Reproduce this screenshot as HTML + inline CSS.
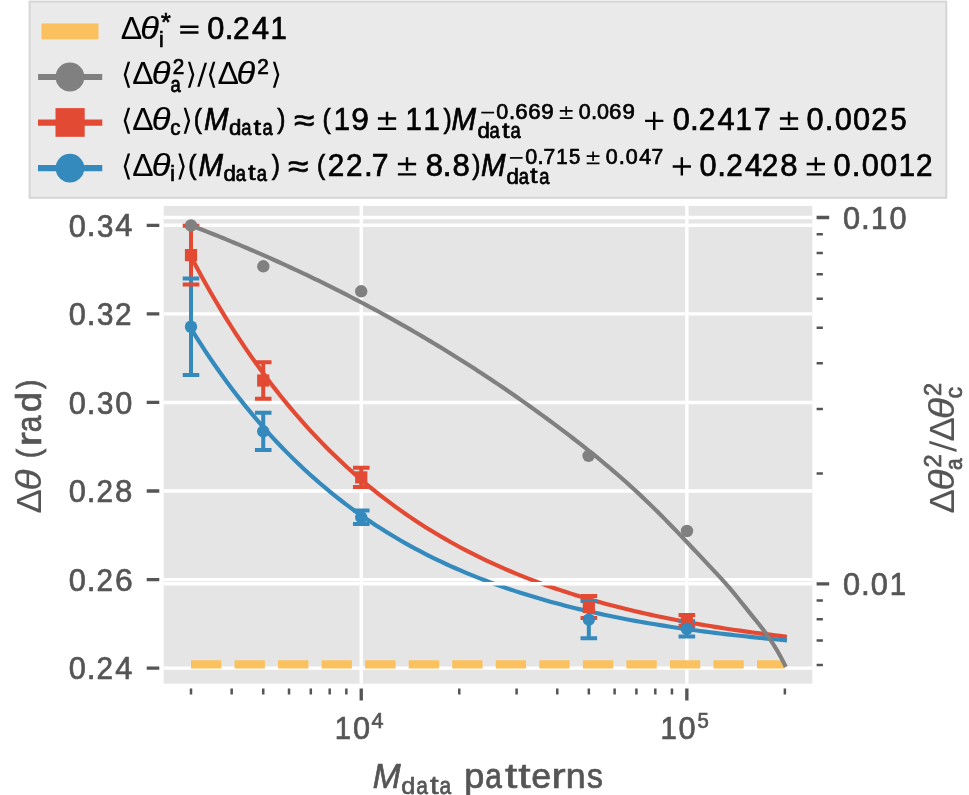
<!DOCTYPE html>
<html><head><meta charset="utf-8"><title>chart</title>
<style>html,body{margin:0;padding:0;background:#fff;}body{width:969px;height:795px;overflow:hidden;}svg{display:block;}text{font-kerning:none;}svg{will-change:transform}</style>
</head><body>
<svg width="969" height="795" viewBox="0 0 969 795" font-family="Liberation Sans, sans-serif" font-size="100">
<rect width="969" height="795" fill="#fff"/>
<rect x="29.6" y="1.6" width="916.7" height="196.2" fill="#EAEAEA" stroke="#D5D5D5" stroke-width="2"/>
<rect x="41.0" y="23.0" width="57.95" height="16.8" fill="#FBC15E" stroke="#EEEEEE" stroke-width="0.8"/>
<line x1="41.1" y1="76.9" x2="99.2" y2="76.9" stroke="#808080" stroke-width="6" stroke-linecap="square"/>
<circle cx="69.95" cy="77.0" r="14.4" fill="#808080"/>
<line x1="41.1" y1="122.6" x2="99.2" y2="122.6" stroke="#E24A33" stroke-width="6.2" stroke-linecap="square"/>
<rect x="55.5" y="108.1" width="29.2" height="28.7" fill="#E24A33"/>
<line x1="41.1" y1="168.2" x2="99.2" y2="168.2" stroke="#348ABD" stroke-width="6.2" stroke-linecap="square"/>
<circle cx="69.95" cy="168.15" r="14.3" fill="#348ABD"/>
<text transform="matrix(0.3205 0 0 0.3091 120.75 38.80)" fill="#000" stroke="#000" stroke-width="0.00">Δ</text>
<text transform="matrix(0.3449 0 0 0.3093 140.30 38.83)" font-style="italic" fill="#000" stroke="#000" stroke-width="0.64">θ</text>
<path d="M180.20 31.37H198.46V33.79H180.20ZM180.20 25.56H198.46V27.95H180.20Z" fill="#000"/>
<text transform="matrix(0.3075 0 0 0.3116 207.30 38.91)" fill="#000" stroke="#000" stroke-width="2.26">0</text>
<text transform="matrix(0.3156 0 0 0.3383 224.82 38.80)" fill="#000" stroke="#000" stroke-width="2.14">.</text>
<text transform="matrix(0.2964 0 0 0.3100 233.11 38.80)" fill="#000" stroke="#000" stroke-width="2.31">2</text>
<text transform="matrix(0.3075 0 0 0.3091 251.89 38.80)" fill="#000" stroke="#000" stroke-width="2.27">4</text>
<text transform="matrix(0.2936 0 0 0.3091 270.56 38.80)" fill="#000" stroke="#000" stroke-width="2.32">1</text>
<text transform="matrix(0.2087 0 0 0.2141 159.00 46.55)" fill="#000" stroke="#000" stroke-width="3.31">i</text>
<text transform="matrix(0.2516 0 0 0.2652 160.99 31.39)" fill="#000" stroke="#000" stroke-width="2.71">*</text>
<path d="M123.70 74.86 L127.72 61.87 L130.14 61.87 L126.12 74.86 L130.14 87.85 L127.72 87.85Z" fill="#000"/>
<text transform="matrix(0.3205 0 0 0.3091 132.25 84.00)" fill="#000" stroke="#000" stroke-width="0.00">Δ</text>
<text transform="matrix(0.3449 0 0 0.3093 151.70 84.03)" font-style="italic" fill="#000" stroke="#000" stroke-width="0.64">θ</text>
<path d="M194.34 74.86 L190.32 87.85 L187.90 87.85 L191.92 74.86 L187.90 61.87 L190.32 61.87Z" fill="#000"/>
<path d="M204.61 62.74 L207.03 62.74 L199.62 86.71 L197.20 86.71Z" fill="#000"/>
<path d="M208.90 74.86 L212.92 61.87 L215.34 61.87 L211.32 74.86 L215.34 87.85 L212.92 87.85Z" fill="#000"/>
<text transform="matrix(0.3205 0 0 0.3091 217.55 84.00)" fill="#000" stroke="#000" stroke-width="0.00">Δ</text>
<text transform="matrix(0.3449 0 0 0.3093 236.40 84.03)" font-style="italic" fill="#000" stroke="#000" stroke-width="0.64">θ</text>
<path d="M279.34 74.86 L275.32 87.85 L272.90 87.85 L276.92 74.86 L272.90 61.87 L275.32 61.87Z" fill="#000"/>
<text transform="matrix(0.2074 0 0 0.2170 172.66 73.70)" fill="#000" stroke="#000" stroke-width="3.30">2</text>
<text transform="matrix(0.2074 0 0 0.2170 257.26 73.70)" fill="#000" stroke="#000" stroke-width="3.30">2</text>
<text transform="matrix(0.1836 0 0 0.2140 170.42 91.78)" fill="#000" stroke="#000" stroke-width="3.52">a</text>
<path d="M123.70 120.86 L127.72 107.87 L130.14 107.87 L126.12 120.86 L130.14 133.85 L127.72 133.85Z" fill="#000"/>
<text transform="matrix(0.3205 0 0 0.3091 132.25 130.00)" fill="#000" stroke="#000" stroke-width="0.00">Δ</text>
<text transform="matrix(0.3449 0 0 0.3093 151.70 130.03)" font-style="italic" fill="#000" stroke="#000" stroke-width="0.64">θ</text>
<path d="M190.14 120.86 L186.12 133.85 L183.70 133.85 L187.72 120.86 L183.70 107.87 L186.12 107.87Z" fill="#000"/>
<text transform="matrix(0.2465 0 0 0.2788 193.77 128.07)" fill="#000" stroke="#000" stroke-width="2.66">(</text>
<text transform="matrix(0.2942 0 0 0.3091 203.90 130.00)" font-style="italic" fill="#000" stroke="#000" stroke-width="2.32">M</text>
<text transform="matrix(0.2465 0 0 0.2788 277.26 128.07)" fill="#000" stroke="#000" stroke-width="2.66">)</text>
<text transform="matrix(0.3695 0 0 0.3193 293.89 131.36)" fill="#000" stroke="#000" stroke-width="2.03">≈</text>
<text transform="matrix(0.2465 0 0 0.2788 322.47 128.07)" fill="#000" stroke="#000" stroke-width="2.66">(</text>
<text transform="matrix(0.2936 0 0 0.3091 333.76 130.00)" fill="#000" stroke="#000" stroke-width="2.32">1</text>
<text transform="matrix(0.3176 0 0 0.3116 351.31 130.11)" fill="#000" stroke="#000" stroke-width="2.23">9</text>
<path d="M377.90 117.23H396.16V119.65H377.90ZM385.83 111.71H388.23V125.16H385.83ZM377.90 127.58H396.16V130.00H377.90Z" fill="#000"/>
<text transform="matrix(0.2936 0 0 0.3091 405.56 130.00)" fill="#000" stroke="#000" stroke-width="2.32">1</text>
<text transform="matrix(0.2936 0 0 0.3091 423.56 130.00)" fill="#000" stroke="#000" stroke-width="2.32">1</text>
<text transform="matrix(0.2465 0 0 0.2788 443.56 128.07)" fill="#000" stroke="#000" stroke-width="2.66">)</text>
<text transform="matrix(0.2942 0 0 0.3091 451.50 130.00)" font-style="italic" fill="#000" stroke="#000" stroke-width="2.32">M</text>
<path d="M645.10 119.65H663.36V122.07H645.10ZM653.03 111.71H655.43V130.00H653.03Z" fill="#000"/>
<text transform="matrix(0.3075 0 0 0.3116 672.80 130.11)" fill="#000" stroke="#000" stroke-width="2.26">0</text>
<text transform="matrix(0.3156 0 0 0.3383 689.92 130.00)" fill="#000" stroke="#000" stroke-width="2.14">.</text>
<text transform="matrix(0.2964 0 0 0.3100 698.81 130.00)" fill="#000" stroke="#000" stroke-width="2.31">2</text>
<text transform="matrix(0.3075 0 0 0.3091 717.39 130.00)" fill="#000" stroke="#000" stroke-width="2.27">4</text>
<text transform="matrix(0.2936 0 0 0.3091 735.56 130.00)" fill="#000" stroke="#000" stroke-width="2.32">1</text>
<text transform="matrix(0.3008 0 0 0.3091 753.96 130.00)" fill="#000" stroke="#000" stroke-width="2.30">7</text>
<path d="M779.90 117.23H798.16V119.65H779.90ZM787.83 111.71H790.23V125.16H787.83ZM779.90 127.58H798.16V130.00H779.90Z" fill="#000"/>
<text transform="matrix(0.3075 0 0 0.3116 806.60 130.11)" fill="#000" stroke="#000" stroke-width="2.26">0</text>
<text transform="matrix(0.3156 0 0 0.3383 824.82 130.00)" fill="#000" stroke="#000" stroke-width="2.14">.</text>
<text transform="matrix(0.3075 0 0 0.3116 834.70 130.11)" fill="#000" stroke="#000" stroke-width="2.26">0</text>
<text transform="matrix(0.3075 0 0 0.3116 852.90 130.11)" fill="#000" stroke="#000" stroke-width="2.26">0</text>
<text transform="matrix(0.2964 0 0 0.3100 871.21 130.00)" fill="#000" stroke="#000" stroke-width="2.31">2</text>
<text transform="matrix(0.2902 0 0 0.3106 890.54 130.11)" fill="#000" stroke="#000" stroke-width="2.33">5</text>
<text transform="matrix(0.2049 0 0 0.2140 170.33 134.98)" fill="#000" stroke="#000" stroke-width="3.34">c</text>
<text transform="matrix(0.2219 0 0 0.2152 229.07 134.98)" fill="#000" stroke="#000" stroke-width="3.20">d</text>
<text transform="matrix(0.1836 0 0 0.2140 241.22 134.98)" fill="#000" stroke="#000" stroke-width="3.52">a</text>
<text transform="matrix(0.2729 0 0 0.2191 253.59 134.73)" fill="#000" stroke="#000" stroke-width="2.85">t</text>
<text transform="matrix(0.1836 0 0 0.2140 262.52 134.98)" fill="#000" stroke="#000" stroke-width="3.52">a</text>
<path d="M481.30 111.75H494.08V113.45H481.30Z" fill="#000"/>
<text transform="matrix(0.2152 0 0 0.2181 496.16 119.08)" fill="#000" stroke="#000" stroke-width="3.23">0</text>
<text transform="matrix(0.2209 0 0 0.2368 509.08 119.00)" fill="#000" stroke="#000" stroke-width="3.06">.</text>
<text transform="matrix(0.2227 0 0 0.2181 515.17 119.08)" fill="#000" stroke="#000" stroke-width="3.18">6</text>
<text transform="matrix(0.2227 0 0 0.2181 528.17 119.08)" fill="#000" stroke="#000" stroke-width="3.18">6</text>
<text transform="matrix(0.2223 0 0 0.2181 541.16 119.08)" fill="#000" stroke="#000" stroke-width="3.18">9</text>
<path d="M559.80 110.06H572.58V111.75H559.80ZM565.35 106.20H567.03V115.61H565.35ZM559.80 117.31H572.58V119.00H559.80Z" fill="#000"/>
<text transform="matrix(0.2152 0 0 0.2181 578.86 119.08)" fill="#000" stroke="#000" stroke-width="3.23">0</text>
<text transform="matrix(0.2209 0 0 0.2368 591.08 119.00)" fill="#000" stroke="#000" stroke-width="3.06">.</text>
<text transform="matrix(0.2152 0 0 0.2181 596.96 119.08)" fill="#000" stroke="#000" stroke-width="3.23">0</text>
<text transform="matrix(0.2227 0 0 0.2181 609.07 119.08)" fill="#000" stroke="#000" stroke-width="3.18">6</text>
<text transform="matrix(0.2223 0 0 0.2181 622.56 119.08)" fill="#000" stroke="#000" stroke-width="3.18">9</text>
<text transform="matrix(0.2219 0 0 0.2152 477.47 137.98)" fill="#000" stroke="#000" stroke-width="3.20">d</text>
<text transform="matrix(0.1836 0 0 0.2140 489.62 137.98)" fill="#000" stroke="#000" stroke-width="3.52">a</text>
<text transform="matrix(0.2729 0 0 0.2191 501.99 137.73)" fill="#000" stroke="#000" stroke-width="2.85">t</text>
<text transform="matrix(0.1836 0 0 0.2140 510.62 137.98)" fill="#000" stroke="#000" stroke-width="3.52">a</text>
<path d="M123.70 166.46 L127.72 153.47 L130.14 153.47 L126.12 166.46 L130.14 179.45 L127.72 179.45Z" fill="#000"/>
<text transform="matrix(0.3205 0 0 0.3091 132.25 175.60)" fill="#000" stroke="#000" stroke-width="0.00">Δ</text>
<text transform="matrix(0.3449 0 0 0.3093 151.70 175.63)" font-style="italic" fill="#000" stroke="#000" stroke-width="0.64">θ</text>
<path d="M184.74 166.46 L180.72 179.45 L178.30 179.45 L182.32 166.46 L178.30 153.47 L180.72 153.47Z" fill="#000"/>
<text transform="matrix(0.2465 0 0 0.2788 188.37 173.67)" fill="#000" stroke="#000" stroke-width="2.66">(</text>
<text transform="matrix(0.2942 0 0 0.3091 198.50 175.60)" font-style="italic" fill="#000" stroke="#000" stroke-width="2.32">M</text>
<text transform="matrix(0.2465 0 0 0.2788 271.76 173.67)" fill="#000" stroke="#000" stroke-width="2.66">)</text>
<text transform="matrix(0.3695 0 0 0.3193 287.89 176.96)" fill="#000" stroke="#000" stroke-width="2.03">≈</text>
<text transform="matrix(0.2465 0 0 0.2788 317.07 173.67)" fill="#000" stroke="#000" stroke-width="2.66">(</text>
<text transform="matrix(0.2964 0 0 0.3100 327.81 175.60)" fill="#000" stroke="#000" stroke-width="2.31">2</text>
<text transform="matrix(0.2964 0 0 0.3100 345.91 175.60)" fill="#000" stroke="#000" stroke-width="2.31">2</text>
<text transform="matrix(0.3156 0 0 0.3383 363.92 175.60)" fill="#000" stroke="#000" stroke-width="2.14">.</text>
<text transform="matrix(0.3008 0 0 0.3091 371.86 175.60)" fill="#000" stroke="#000" stroke-width="2.30">7</text>
<path d="M397.90 162.83H416.16V165.25H397.90ZM405.83 157.31H408.23V170.76H405.83ZM397.90 173.18H416.16V175.60H397.90Z" fill="#000"/>
<text transform="matrix(0.3108 0 0 0.3116 425.65 175.71)" fill="#000" stroke="#000" stroke-width="2.25">8</text>
<text transform="matrix(0.3156 0 0 0.3383 442.82 175.60)" fill="#000" stroke="#000" stroke-width="2.14">.</text>
<text transform="matrix(0.3108 0 0 0.3116 452.45 175.71)" fill="#000" stroke="#000" stroke-width="2.25">8</text>
<text transform="matrix(0.2465 0 0 0.2788 472.26 173.67)" fill="#000" stroke="#000" stroke-width="2.66">)</text>
<text transform="matrix(0.2942 0 0 0.3091 481.00 175.60)" font-style="italic" fill="#000" stroke="#000" stroke-width="2.32">M</text>
<path d="M672.70 165.25H690.96V167.67H672.70ZM680.63 157.31H683.03V175.60H680.63Z" fill="#000"/>
<text transform="matrix(0.3075 0 0 0.3116 699.60 175.71)" fill="#000" stroke="#000" stroke-width="2.26">0</text>
<text transform="matrix(0.3156 0 0 0.3383 717.32 175.60)" fill="#000" stroke="#000" stroke-width="2.14">.</text>
<text transform="matrix(0.2964 0 0 0.3100 726.21 175.60)" fill="#000" stroke="#000" stroke-width="2.31">2</text>
<text transform="matrix(0.3075 0 0 0.3091 744.99 175.60)" fill="#000" stroke="#000" stroke-width="2.27">4</text>
<text transform="matrix(0.2964 0 0 0.3100 761.81 175.60)" fill="#000" stroke="#000" stroke-width="2.31">2</text>
<text transform="matrix(0.3108 0 0 0.3116 780.25 175.71)" fill="#000" stroke="#000" stroke-width="2.25">8</text>
<path d="M806.70 162.83H824.96V165.25H806.70ZM814.63 157.31H817.03V170.76H814.63ZM806.70 173.18H824.96V175.60H806.70Z" fill="#000"/>
<text transform="matrix(0.3075 0 0 0.3116 833.60 175.71)" fill="#000" stroke="#000" stroke-width="2.26">0</text>
<text transform="matrix(0.3156 0 0 0.3383 851.82 175.60)" fill="#000" stroke="#000" stroke-width="2.14">.</text>
<text transform="matrix(0.3075 0 0 0.3116 861.70 175.71)" fill="#000" stroke="#000" stroke-width="2.26">0</text>
<text transform="matrix(0.3075 0 0 0.3116 879.90 175.71)" fill="#000" stroke="#000" stroke-width="2.26">0</text>
<text transform="matrix(0.2936 0 0 0.3091 898.66 175.60)" fill="#000" stroke="#000" stroke-width="2.32">1</text>
<text transform="matrix(0.2964 0 0 0.3100 915.91 175.60)" fill="#000" stroke="#000" stroke-width="2.31">2</text>
<text transform="matrix(0.2087 0 0 0.2141 170.20 180.50)" fill="#000" stroke="#000" stroke-width="3.31">i</text>
<text transform="matrix(0.2219 0 0 0.2152 223.57 180.58)" fill="#000" stroke="#000" stroke-width="3.20">d</text>
<text transform="matrix(0.1836 0 0 0.2140 235.72 180.58)" fill="#000" stroke="#000" stroke-width="3.52">a</text>
<text transform="matrix(0.2729 0 0 0.2191 248.09 180.33)" fill="#000" stroke="#000" stroke-width="2.85">t</text>
<text transform="matrix(0.1836 0 0 0.2140 256.72 180.58)" fill="#000" stroke="#000" stroke-width="3.52">a</text>
<path d="M509.90 157.05H522.68V158.75H509.90Z" fill="#000"/>
<text transform="matrix(0.2152 0 0 0.2181 525.36 164.38)" fill="#000" stroke="#000" stroke-width="3.23">0</text>
<text transform="matrix(0.2209 0 0 0.2368 537.58 164.30)" fill="#000" stroke="#000" stroke-width="3.06">.</text>
<text transform="matrix(0.2105 0 0 0.2163 543.42 164.30)" fill="#000" stroke="#000" stroke-width="3.28">7</text>
<text transform="matrix(0.2056 0 0 0.2163 556.23 164.30)" fill="#000" stroke="#000" stroke-width="3.32">1</text>
<text transform="matrix(0.2031 0 0 0.2175 568.89 164.38)" fill="#000" stroke="#000" stroke-width="3.33">5</text>
<path d="M586.70 155.36H599.48V157.05H586.70ZM592.25 151.50H593.93V160.91H592.25ZM586.70 162.61H599.48V164.30H586.70Z" fill="#000"/>
<text transform="matrix(0.2152 0 0 0.2181 605.86 164.38)" fill="#000" stroke="#000" stroke-width="3.23">0</text>
<text transform="matrix(0.2209 0 0 0.2368 618.68 164.30)" fill="#000" stroke="#000" stroke-width="3.06">.</text>
<text transform="matrix(0.2152 0 0 0.2181 625.86 164.38)" fill="#000" stroke="#000" stroke-width="3.23">0</text>
<text transform="matrix(0.2152 0 0 0.2163 639.21 164.30)" fill="#000" stroke="#000" stroke-width="3.24">4</text>
<text transform="matrix(0.2105 0 0 0.2163 651.62 164.30)" fill="#000" stroke="#000" stroke-width="3.28">7</text>
<text transform="matrix(0.2219 0 0 0.2152 506.47 183.58)" fill="#000" stroke="#000" stroke-width="3.20">d</text>
<text transform="matrix(0.1836 0 0 0.2140 518.82 183.58)" fill="#000" stroke="#000" stroke-width="3.52">a</text>
<text transform="matrix(0.2729 0 0 0.2191 530.09 183.33)" fill="#000" stroke="#000" stroke-width="2.85">t</text>
<text transform="matrix(0.1836 0 0 0.2140 539.22 183.58)" fill="#000" stroke="#000" stroke-width="3.52">a</text>
<rect x="163.7" y="205.9" width="648.60" height="477.80" fill="#E5E5E5"/>
<path d="M361.25 205.9V683.7M686.85 205.9V683.7M163.7 225.30H812.3M163.7 313.87H812.3M163.7 402.44H812.3M163.7 491.01H812.3M163.7 579.58H812.3M163.7 668.15H812.3" stroke="#fff" stroke-width="3.4" fill="none"/>
<path d="M146.7 225.30H159.3M146.7 313.87H159.3M146.7 402.44H159.3M146.7 491.01H159.3M146.7 579.58H159.3M146.7 668.15H159.3M361.25 688.6V700.6M686.85 688.6V700.6M816.6 217.50H829.2M816.6 583.80H829.2" stroke="#555555" stroke-width="3.33" fill="none"/>
<path d="M191.00 688.6V694.4M231.68 688.6V694.4M263.23 688.6V694.4M289.02 688.6V694.4M310.81 688.6V694.4M329.70 688.6V694.4M346.35 688.6V694.4M459.27 688.6V694.4M516.60 688.6V694.4M557.28 688.6V694.4M588.83 688.6V694.4M614.62 688.6V694.4M636.41 688.6V694.4M655.30 688.6V694.4M671.95 688.6V694.4M784.87 688.6V694.4M816.6 473.53H822.9M816.6 409.03H822.9M816.6 363.27H822.9M816.6 327.77H822.9M816.6 298.76H822.9M816.6 274.24H822.9M816.6 253.00H822.9M816.6 234.26H822.9M816.6 665.06H822.9M816.6 640.54H822.9M816.6 619.30H822.9M816.6 600.56H822.9" stroke="#555555" stroke-width="2.5" fill="none"/>
<text transform="matrix(0.3075 0 0 0.3116 68.80 236.51)" fill="#555555" stroke="#555555" stroke-width="2.26">0</text>
<text transform="matrix(0.3156 0 0 0.3383 86.87 236.40)" fill="#555555" stroke="#555555" stroke-width="2.14">.</text>
<text transform="matrix(0.2953 0 0 0.3116 97.00 236.51)" fill="#555555" stroke="#555555" stroke-width="2.31">3</text>
<text transform="matrix(0.3075 0 0 0.3091 115.18 236.40)" fill="#555555" stroke="#555555" stroke-width="2.27">4</text>
<text transform="matrix(0.3075 0 0 0.3116 68.80 325.08)" fill="#555555" stroke="#555555" stroke-width="2.26">0</text>
<text transform="matrix(0.3156 0 0 0.3383 86.87 324.97)" fill="#555555" stroke="#555555" stroke-width="2.14">.</text>
<text transform="matrix(0.2953 0 0 0.3116 97.00 325.08)" fill="#555555" stroke="#555555" stroke-width="2.31">3</text>
<text transform="matrix(0.2964 0 0 0.3100 115.11 324.97)" fill="#555555" stroke="#555555" stroke-width="2.31">2</text>
<text transform="matrix(0.3075 0 0 0.3116 68.80 413.65)" fill="#555555" stroke="#555555" stroke-width="2.26">0</text>
<text transform="matrix(0.3156 0 0 0.3383 86.87 413.54)" fill="#555555" stroke="#555555" stroke-width="2.14">.</text>
<text transform="matrix(0.2953 0 0 0.3116 97.00 413.65)" fill="#555555" stroke="#555555" stroke-width="2.31">3</text>
<text transform="matrix(0.3075 0 0 0.3116 115.18 413.65)" fill="#555555" stroke="#555555" stroke-width="2.26">0</text>
<text transform="matrix(0.3075 0 0 0.3116 68.80 502.22)" fill="#555555" stroke="#555555" stroke-width="2.26">0</text>
<text transform="matrix(0.3156 0 0 0.3383 86.87 502.11)" fill="#555555" stroke="#555555" stroke-width="2.14">.</text>
<text transform="matrix(0.2964 0 0 0.3100 96.55 502.11)" fill="#555555" stroke="#555555" stroke-width="2.31">2</text>
<text transform="matrix(0.3108 0 0 0.3116 115.09 502.22)" fill="#555555" stroke="#555555" stroke-width="2.25">8</text>
<text transform="matrix(0.3075 0 0 0.3116 68.80 590.79)" fill="#555555" stroke="#555555" stroke-width="2.26">0</text>
<text transform="matrix(0.3156 0 0 0.3383 86.87 590.68)" fill="#555555" stroke="#555555" stroke-width="2.14">.</text>
<text transform="matrix(0.2964 0 0 0.3100 96.55 590.68)" fill="#555555" stroke="#555555" stroke-width="2.31">2</text>
<text transform="matrix(0.3182 0 0 0.3116 114.88 590.79)" fill="#555555" stroke="#555555" stroke-width="2.22">6</text>
<text transform="matrix(0.3075 0 0 0.3116 68.80 679.36)" fill="#555555" stroke="#555555" stroke-width="2.26">0</text>
<text transform="matrix(0.3156 0 0 0.3383 86.87 679.25)" fill="#555555" stroke="#555555" stroke-width="2.14">.</text>
<text transform="matrix(0.2964 0 0 0.3100 96.55 679.25)" fill="#555555" stroke="#555555" stroke-width="2.31">2</text>
<text transform="matrix(0.3075 0 0 0.3091 115.18 679.25)" fill="#555555" stroke="#555555" stroke-width="2.27">4</text>
<text transform="matrix(0.3075 0 0 0.3116 843.00 228.81)" fill="#555555" stroke="#555555" stroke-width="2.26">0</text>
<text transform="matrix(0.3156 0 0 0.3383 861.07 228.70)" fill="#555555" stroke="#555555" stroke-width="2.14">.</text>
<text transform="matrix(0.2936 0 0 0.3091 871.07 228.70)" fill="#555555" stroke="#555555" stroke-width="2.32">1</text>
<text transform="matrix(0.3075 0 0 0.3116 889.38 228.81)" fill="#555555" stroke="#555555" stroke-width="2.26">0</text>
<text transform="matrix(0.3075 0 0 0.3116 843.00 595.21)" fill="#555555" stroke="#555555" stroke-width="2.26">0</text>
<text transform="matrix(0.3156 0 0 0.3383 861.07 595.10)" fill="#555555" stroke="#555555" stroke-width="2.14">.</text>
<text transform="matrix(0.3075 0 0 0.3116 870.83 595.21)" fill="#555555" stroke="#555555" stroke-width="2.26">0</text>
<text transform="matrix(0.2936 0 0 0.3091 889.63 595.10)" fill="#555555" stroke="#555555" stroke-width="2.32">1</text>
<text transform="matrix(0.2936 0 0 0.3091 334.76 738.90)" fill="#555555" stroke="#555555" stroke-width="2.32">1</text>
<text transform="matrix(0.3075 0 0 0.3116 353.10 739.01)" fill="#555555" stroke="#555555" stroke-width="2.26">0</text>
<text transform="matrix(0.2152 0 0 0.2163 371.61 728.10)" fill="#555555" stroke="#555555" stroke-width="3.24">4</text>
<text transform="matrix(0.2936 0 0 0.3091 660.56 738.90)" fill="#555555" stroke="#555555" stroke-width="2.32">1</text>
<text transform="matrix(0.3075 0 0 0.3116 678.50 739.01)" fill="#555555" stroke="#555555" stroke-width="2.26">0</text>
<text transform="matrix(0.2031 0 0 0.2175 697.49 728.18)" fill="#555555" stroke="#555555" stroke-width="3.33">5</text>
<line x1="191.00" y1="664.3" x2="784.87" y2="664.3" stroke="#FBC15E" stroke-width="8.33" stroke-dasharray="30.3 13.24"/>
<path d="M191.00 256.68 L195.99 266.08 L200.98 275.26 L205.97 284.22 L210.96 292.97 L215.95 301.53 L220.94 309.88 L225.93 318.04 L230.92 326.01 L235.91 333.79 L240.91 341.40 L245.90 348.82 L250.89 356.08 L255.88 363.16 L260.87 370.09 L265.86 376.85 L270.85 383.45 L275.84 389.90 L280.83 396.20 L285.82 402.36 L290.81 408.37 L295.80 414.24 L300.79 419.97 L305.78 425.58 L310.77 431.05 L315.76 436.39 L320.75 441.61 L325.74 446.71 L330.73 451.69 L335.72 456.56 L340.71 461.31 L345.70 465.95 L350.70 470.49 L355.69 474.92 L360.68 479.24 L365.67 483.47 L370.66 487.60 L375.65 491.63 L380.64 495.57 L385.63 499.41 L390.62 503.17 L395.61 506.84 L400.60 510.42 L405.59 513.93 L410.58 517.35 L415.57 520.69 L420.56 523.95 L425.55 527.14 L430.54 530.25 L435.53 533.29 L440.52 536.26 L445.51 539.16 L450.50 542.00 L455.50 544.76 L460.49 547.47 L465.48 550.11 L470.47 552.69 L475.46 555.21 L480.45 557.67 L485.44 560.07 L490.43 562.42 L495.42 564.72 L500.41 566.96 L505.40 569.14 L510.39 571.28 L515.38 573.37 L520.37 575.41 L525.36 577.40 L530.35 579.35 L535.34 581.25 L540.33 583.10 L545.32 584.92 L550.31 586.69 L555.30 588.42 L560.29 590.11 L565.29 591.76 L570.28 593.37 L575.27 594.95 L580.26 596.49 L585.25 597.99 L590.24 599.46 L595.23 600.89 L600.22 602.29 L605.21 603.66 L610.20 604.99 L615.19 606.30 L620.18 607.57 L625.17 608.82 L630.16 610.03 L635.15 611.22 L640.14 612.38 L645.13 613.52 L650.12 614.62 L655.11 615.70 L660.10 616.76 L665.09 617.79 L670.08 618.80 L675.08 619.78 L680.07 620.75 L685.06 621.68 L690.05 622.60 L695.04 623.50 L700.03 624.37 L705.02 625.23 L710.01 626.06 L715.00 626.88 L719.99 627.67 L724.98 628.45 L729.97 629.21 L734.96 629.96 L739.95 630.68 L744.94 631.39 L749.93 632.08 L754.92 632.76 L759.91 633.42 L764.90 634.06 L769.89 634.69 L774.88 635.31 L779.87 635.91 L784.87 636.49" stroke="#E24A33" stroke-width="4.17" fill="none" stroke-linejoin="round" stroke-linecap="square"/>
<path d="M191.00 328.70 L195.99 336.68 L200.98 344.47 L205.97 352.07 L210.96 359.48 L215.95 366.72 L220.94 373.78 L225.93 380.67 L230.92 387.39 L235.91 393.95 L240.91 400.35 L245.90 406.59 L250.89 412.68 L255.88 418.63 L260.87 424.43 L265.86 430.09 L270.85 435.61 L275.84 441.00 L280.83 446.26 L285.82 451.39 L290.81 456.40 L295.80 461.29 L300.79 466.05 L305.78 470.70 L310.77 475.24 L315.76 479.67 L320.75 483.99 L325.74 488.21 L330.73 492.32 L335.72 496.34 L340.71 500.25 L345.70 504.08 L350.70 507.81 L355.69 511.45 L360.68 515.00 L365.67 518.46 L370.66 521.84 L375.65 525.14 L380.64 528.36 L385.63 531.50 L390.62 534.56 L395.61 537.55 L400.60 540.47 L405.59 543.32 L410.58 546.10 L415.57 548.81 L420.56 551.45 L425.55 554.03 L430.54 556.55 L435.53 559.01 L440.52 561.41 L445.51 563.75 L450.50 566.03 L455.50 568.26 L460.49 570.43 L465.48 572.55 L470.47 574.62 L475.46 576.64 L480.45 578.61 L485.44 580.53 L490.43 582.41 L495.42 584.24 L500.41 586.02 L505.40 587.77 L510.39 589.47 L515.38 591.12 L520.37 592.74 L525.36 594.32 L530.35 595.86 L535.34 597.37 L540.33 598.84 L545.32 600.27 L550.31 601.67 L555.30 603.03 L560.29 604.36 L565.29 605.66 L570.28 606.92 L575.27 608.16 L580.26 609.36 L585.25 610.54 L590.24 611.69 L595.23 612.81 L600.22 613.90 L605.21 614.97 L610.20 616.01 L615.19 617.03 L620.18 618.02 L625.17 618.98 L630.16 619.93 L635.15 620.85 L640.14 621.75 L645.13 622.62 L650.12 623.48 L655.11 624.31 L660.10 625.13 L665.09 625.92 L670.08 626.70 L675.08 627.45 L680.07 628.19 L685.06 628.91 L690.05 629.61 L695.04 630.30 L700.03 630.97 L705.02 631.62 L710.01 632.26 L715.00 632.88 L719.99 633.49 L724.98 634.08 L729.97 634.65 L734.96 635.22 L739.95 635.77 L744.94 636.30 L749.93 636.83 L754.92 637.34 L759.91 637.84 L764.90 638.32 L769.89 638.80 L774.88 639.26 L779.87 639.71 L784.87 640.15" stroke="#348ABD" stroke-width="4.17" fill="none" stroke-linejoin="round" stroke-linecap="square"/>
<path d="M191.00 225.7V284.5M263.23 362.2V398.8M361.25 467.8V487.0M588.83 596.1V617.9M686.85 615.0V626.0" stroke="#E24A33" stroke-width="4.0" fill="none"/>
<path d="M191.00 278.4V375.1M263.23 412.7V449.9M361.25 510.5V524.1M588.83 600.9V638.3M686.85 621.2V636.4" stroke="#348ABD" stroke-width="4.0" fill="none"/>
<path d="M182.70 225.7h16.6M182.70 284.5h16.6M254.93 362.2h16.6M254.93 398.8h16.6M352.95 467.8h16.6M352.95 487.0h16.6M580.53 596.1h16.6M580.53 617.9h16.6M678.55 615.0h16.6M678.55 626.0h16.6" stroke="#E24A33" stroke-width="4.0" fill="none"/>
<path d="M182.70 278.4h16.6M182.70 375.1h16.6M254.93 412.7h16.6M254.93 449.9h16.6M352.95 510.5h16.6M352.95 524.1h16.6M580.53 600.9h16.6M580.53 638.3h16.6M678.55 621.2h16.6M678.55 636.4h16.6" stroke="#348ABD" stroke-width="4.0" fill="none"/>
<rect x="184.90" y="249.00" width="12.2" height="12.2" fill="#E24A33"/>
<rect x="257.13" y="374.40" width="12.2" height="12.2" fill="#E24A33"/>
<rect x="355.15" y="471.30" width="12.2" height="12.2" fill="#E24A33"/>
<rect x="582.73" y="600.90" width="12.2" height="12.2" fill="#E24A33"/>
<rect x="680.75" y="614.40" width="12.2" height="12.2" fill="#E24A33"/>
<circle cx="191.00" cy="326.75" r="6.2" fill="#348ABD"/>
<circle cx="263.23" cy="431.30" r="6.2" fill="#348ABD"/>
<circle cx="361.25" cy="517.30" r="6.2" fill="#348ABD"/>
<circle cx="588.83" cy="619.60" r="6.2" fill="#348ABD"/>
<circle cx="686.85" cy="628.80" r="6.2" fill="#348ABD"/>
<path d="M163.7 217.50H812.3M163.7 583.80H812.3" stroke="#fff" stroke-width="3.4"/>
<path d="M191.00 225.39 L194.99 226.93 L198.97 228.48 L202.96 230.05 L206.94 231.62 L210.93 233.21 L214.91 234.80 L218.90 236.41 L222.89 238.03 L226.87 239.67 L230.86 241.31 L234.84 242.97 L238.83 244.64 L242.81 246.32 L246.80 248.01 L250.79 249.72 L254.77 251.44 L258.76 253.17 L262.74 254.91 L266.73 256.67 L270.71 258.44 L274.70 260.23 L278.69 262.02 L282.67 263.83 L286.66 265.66 L290.64 267.49 L294.63 269.34 L298.61 271.21 L302.60 273.09 L306.59 274.98 L310.57 276.88 L314.56 278.80 L318.54 280.74 L322.53 282.69 L326.51 284.65 L330.50 286.63 L334.48 288.62 L338.47 290.63 L342.46 292.65 L346.44 294.69 L350.43 296.74 L354.41 298.81 L358.40 300.89 L362.38 302.99 L366.37 305.10 L370.36 307.23 L374.34 309.37 L378.33 311.53 L382.31 313.71 L386.30 315.90 L390.28 318.11 L394.27 320.33 L398.26 322.57 L402.24 324.83 L406.23 327.10 L410.21 329.39 L414.20 331.69 L418.18 334.02 L422.17 336.36 L426.16 338.71 L430.14 341.09 L434.13 343.48 L438.11 345.88 L442.10 348.31 L446.08 350.75 L450.07 353.21 L454.05 355.69 L458.04 358.19 L462.03 360.70 L466.01 363.23 L470.00 365.78 L473.98 368.35 L477.97 370.93 L481.95 373.54 L485.94 376.16 L489.93 378.80 L493.91 381.46 L497.90 384.14 L501.88 386.83 L505.87 389.55 L509.85 392.28 L513.84 395.04 L517.83 397.81 L521.81 400.60 L525.80 403.42 L529.78 406.25 L533.77 409.10 L537.75 411.97 L541.74 414.86 L545.73 417.77 L549.71 420.70 L553.70 423.65 L557.68 426.63 L561.67 429.62 L565.65 432.63 L569.64 435.67 L573.62 438.73 L577.61 441.82 L581.60 444.94 L585.58 448.08 L589.57 451.26 L593.55 454.47 L597.54 457.72 L601.52 461.00 L605.51 464.32 L609.50 467.67 L613.48 471.07 L617.47 474.51 L621.45 478.00 L625.44 481.53 L629.42 485.10 L633.41 488.73 L637.40 492.40 L641.38 496.13 L645.37 499.91 L649.35 503.74 L653.34 507.63 L657.32 511.57 L661.31 515.56 L665.30 519.60 L669.28 523.67 L673.27 527.78 L677.25 531.92 L681.24 536.09 L685.22 540.27 L689.21 544.48 L693.19 548.70 L697.18 552.93 L701.17 557.16 L705.15 561.39 L709.14 565.62 L713.12 569.85 L717.11 574.11 L721.09 578.44 L725.08 582.87 L729.07 587.45 L733.05 592.17 L737.04 597.02 L741.02 601.94 L745.01 606.91 L748.99 611.89 L752.98 616.84 L756.97 621.79 L760.95 626.82 L764.94 632.06 L768.92 637.60 L772.91 643.56 L776.89 650.04 L780.88 657.15 L784.87 664.99" stroke="#808080" stroke-width="4.17" fill="none" stroke-linejoin="round" stroke-linecap="square"/>
<circle cx="191.0" cy="225.5" r="6.2" fill="#808080"/>
<circle cx="263.3" cy="266.3" r="6.2" fill="#808080"/>
<circle cx="361.2" cy="291.3" r="6.2" fill="#808080"/>
<circle cx="588.6" cy="455.8" r="6.2" fill="#808080"/>
<circle cx="687.0" cy="531.0" r="6.2" fill="#808080"/>
<text transform="matrix(0.3348 0 0 0.3518 372.87 788.10)" font-style="italic" fill="#555555" stroke="#555555" stroke-width="2.04">M</text>
<text transform="matrix(0.2526 0 0 0.2449 401.14 793.89)" fill="#555555" stroke="#555555" stroke-width="2.81">d</text>
<text transform="matrix(0.2090 0 0 0.2436 416.18 793.89)" fill="#555555" stroke="#555555" stroke-width="3.09">a</text>
<text transform="matrix(0.3106 0 0 0.2494 430.06 793.61)" fill="#555555" stroke="#555555" stroke-width="2.50">t</text>
<text transform="matrix(0.2090 0 0 0.2436 439.53 793.89)" fill="#555555" stroke="#555555" stroke-width="3.09">a</text>
<text transform="matrix(0.3612 0 0 0.3422 464.17 788.00)" fill="#555555" stroke="#555555" stroke-width="1.99">p</text>
<text transform="matrix(0.2985 0 0 0.3480 485.28 788.33)" fill="#555555" stroke="#555555" stroke-width="2.17">a</text>
<text transform="matrix(0.4437 0 0 0.3563 505.12 787.92)" fill="#555555" stroke="#555555" stroke-width="1.75">t</text>
<text transform="matrix(0.4437 0 0 0.3563 518.14 787.92)" fill="#555555" stroke="#555555" stroke-width="1.75">t</text>
<text transform="matrix(0.3586 0 0 0.3480 531.25 788.33)" fill="#555555" stroke="#555555" stroke-width="1.98">e</text>
<text transform="matrix(0.4254 0 0 0.3456 551.55 788.20)" fill="#555555" stroke="#555555" stroke-width="1.82">r</text>
<text transform="matrix(0.3579 0 0 0.3456 565.65 788.20)" fill="#555555" stroke="#555555" stroke-width="1.99">n</text>
<text transform="matrix(0.3182 0 0 0.3489 586.97 788.33)" fill="#555555" stroke="#555555" stroke-width="2.10">s</text>
<g transform="translate(41.0 512.5) rotate(-90)">
<text transform="matrix(0.3648 0 0 0.3518 -1.09 0.00)" fill="#555555" stroke="#555555" stroke-width="0.00">Δ</text>
<text transform="matrix(0.3926 0 0 0.3521 21.76 0.03)" font-style="italic" fill="#555555" stroke="#555555" stroke-width="0.56">θ</text>
<text transform="matrix(0.2806 0 0 0.3174 54.16 -2.19)" fill="#555555" stroke="#555555" stroke-width="2.34">(</text>
<text transform="matrix(0.4254 0 0 0.3456 66.19 0.00)" fill="#555555" stroke="#555555" stroke-width="1.82">r</text>
<text transform="matrix(0.2985 0 0 0.3480 80.37 0.13)" fill="#555555" stroke="#555555" stroke-width="2.17">a</text>
<text transform="matrix(0.3608 0 0 0.3499 100.31 0.13)" fill="#555555" stroke="#555555" stroke-width="1.97">d</text>
<text transform="matrix(0.2806 0 0 0.3174 123.56 -2.19)" fill="#555555" stroke="#555555" stroke-width="2.34">)</text>
</g>
<g transform="translate(953.5 512.4) rotate(-90)">
<text transform="matrix(0.3648 0 0 0.3518 -1.09 0.00)" fill="#555555" stroke="#555555" stroke-width="0.00">Δ</text>
<text transform="matrix(0.3926 0 0 0.3521 21.66 0.03)" font-style="italic" fill="#555555" stroke="#555555" stroke-width="0.56">θ</text>
<text transform="matrix(0.2361 0 0 0.2470 44.81 -12.80)" fill="#555555" stroke="#555555" stroke-width="2.90">2</text>
<text transform="matrix(0.2090 0 0 0.2436 42.51 8.79)" fill="#555555" stroke="#555555" stroke-width="3.09">a</text>
<path d="M68.83 -24.20 L71.59 -24.20 L63.16 3.08 L60.40 3.08Z" fill="#555555"/>
<text transform="matrix(0.3648 0 0 0.3518 70.81 0.00)" fill="#555555" stroke="#555555" stroke-width="0.00">Δ</text>
<text transform="matrix(0.3926 0 0 0.3521 93.26 0.03)" font-style="italic" fill="#555555" stroke="#555555" stroke-width="0.56">θ</text>
<text transform="matrix(0.2361 0 0 0.2470 116.41 -12.80)" fill="#555555" stroke="#555555" stroke-width="2.90">2</text>
<text transform="matrix(0.2332 0 0 0.2436 113.91 8.79)" fill="#555555" stroke="#555555" stroke-width="2.94">c</text>
</g>
</svg>
</body></html>
